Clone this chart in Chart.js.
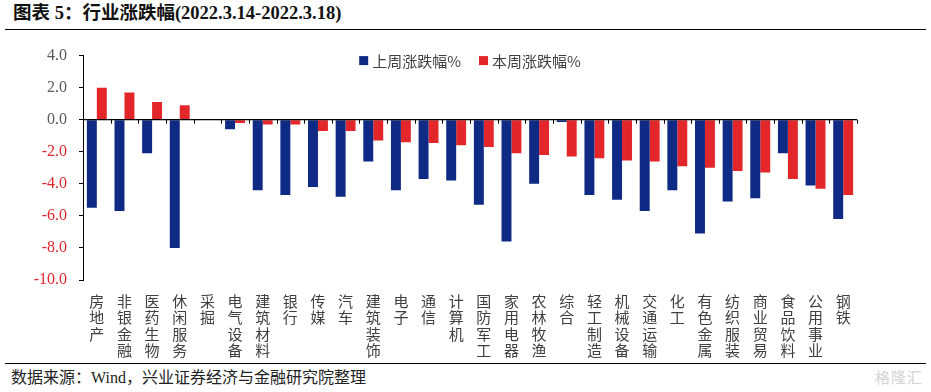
<!DOCTYPE html>
<html>
<head>
<meta charset="utf-8">
<script src="https://cdn.jsdelivr.net/npm/chart.js@4"></script>
<style>
  html, body { margin:0; padding:0; background:#fff; }
  #page { position:relative; width:931px; height:392px; overflow:hidden; }
  #title { position:absolute; left:5px; right:5px; top:0; height:29px; border-bottom:1.5px solid #000;
           font:bold 18.5px "Liberation Serif","Noto Sans CJK SC",serif; color:#111; padding-left:8px; line-height:27px; }
  #wrap { position:absolute; left:0; top:34px; width:931px; height:328px; }
  #foot { position:absolute; left:5px; right:5px; top:363px; border-top:1.5px solid #000;
          font:16px "Liberation Serif","Noto Sans CJK SC",serif; color:#222; padding-left:6px; line-height:27px; }
  #mark { position:absolute; right:8px; top:366px; font:15px "Noto Sans CJK SC",sans-serif; color:#d4d4d4; letter-spacing:1px; }
</style>
</head>
<body>
<div id="page">
  <div id="title">图表 5：行业涨跌幅(2022.3.14-2022.3.18)</div>
  <div id="wrap"><canvas id="chart"></canvas></div>
  <div id="foot">数据来源：Wind，兴业证券经济与金融研究院整理</div>
  <div id="mark">格隆汇</div>
</div>
<script>
// --- données ---
const industries = ['房地产','非银金融','医药生物','休闲服务','采掘','电气设备','建筑材料','银行','传媒','汽车',
  '建筑装饰','电子','通信','计算机','国防军工','家用电器','农林牧渔','综合','轻工制造','机械设备',
  '交通运输','化工','有色金属','纺织服装','商业贸易','食品饮料','公用事业','钢铁'];
const lastWeek = [-5.5,-5.7,-2.1,-8.0,0,-0.6,-4.4,-4.7,-4.2,-4.8,
  -2.6,-4.4,-3.7,-3.8,-5.3,-7.6,-4.0,-0.15,-4.7,-5.0,
  -5.7,-4.4,-7.1,-5.1,-4.9,-2.1,-4.1,-6.2];
const thisWeek = [2.0,1.7,1.1,0.9,0,-0.2,-0.3,-0.3,-0.7,-0.7,
  -1.3,-1.4,-1.45,-1.6,-1.7,-2.1,-2.2,-2.3,-2.4,-2.55,
  -2.6,-2.9,-3.0,-3.2,-3.3,-3.7,-4.3,-4.7];
const seriesNames = ['上周涨跌幅%','本周涨跌幅%'];
const yMin = -10, yMax = 4, yStep = 2;

const BLUE = '#0E2A85', RED = '#E2262A';

// ligne du zéro + petites graduations, et légende dans la zone du graphique
const zeroLine = {
  id:'zeroLine',
  afterDatasetsDraw(chart) {
    const {ctx, chartArea, scales:{x, y}} = chart;
    const y0 = y.getPixelForValue(0);
    ctx.save();
    ctx.strokeStyle = '#000'; ctx.lineWidth = 1.2;
    ctx.beginPath(); ctx.moveTo(chartArea.left, y0); ctx.lineTo(chartArea.right, y0); ctx.stroke();
    ctx.lineWidth = 1;
    for (let i = 0; i <= industries.length; i++) {
      const px = Math.round(x.getPixelForValue(i - 0.5)) + 0.5;
      ctx.beginPath(); ctx.moveTo(px, y0); ctx.lineTo(px, y0 + 4); ctx.stroke();
    }
    ctx.restore();
  }
};

const insideLegend = {
  id:'insideLegend',
  afterDraw(chart) {
    const {ctx, chartArea} = chart;
    ctx.save();
    ctx.font = '15px "Noto Sans CJK SC", sans-serif';
    ctx.textBaseline = 'middle';
    const box = 9, gap = 4, sep = 18;
    const items = chart.data.datasets.map(d => ({label:d.label, color:d.backgroundColor, w: box + gap + ctx.measureText(d.label).width}));
    const total = items.reduce((s, it) => s + it.w, 0) + sep * (items.length - 1);
    let cx = (chartArea.left + chartArea.right) / 2 - total / 2;
    const cy = chartArea.top + 5;
    items.forEach(it => {
      ctx.fillStyle = it.color;
      ctx.fillRect(cx, cy - box / 2, box, box);
      ctx.fillStyle = '#404040';
      ctx.fillText(it.label, cx + box + gap, cy + 1);
      cx += it.w + sep;
    });
    ctx.restore();
  }
};

new Chart(document.getElementById('chart'), {
  type:'bar',
  data:{
    labels: industries.map(s => s.split('')),
    datasets:[
      { label:seriesNames[0], data:lastWeek, backgroundColor:BLUE, categoryPercentage:0.72, barPercentage:1.0 },
      { label:seriesNames[1], data:thisWeek, backgroundColor:RED, categoryPercentage:0.72, barPercentage:1.0 }
    ]
  },
  options:{
    responsive:true, maintainAspectRatio:false, animation:false,
    layout:{ padding:{ top:21, right:74, left:0, bottom:0 } },
    plugins:{ legend:{ display:false }, tooltip:{ enabled:false } },
    scales:{
      x:{
        grid:{ display:false }, border:{ display:false },
        ticks:{ autoSkip:false, maxRotation:0, minRotation:0, padding:5, color:'#404040',
                font:{ family:'"Noto Sans CJK SC", sans-serif', size:15, lineHeight:1.1 } },
        afterFit: s => { s.height = 82; }
      },
      y:{
        min:yMin, max:yMax,
        border:{ display:true, color:'#000', width:1 },
        grid:{ drawOnChartArea:false, drawTicks:true, tickLength:4, tickColor:'#000' },
        ticks:{ stepSize:yStep, padding:12,
                color: c => c.tick.value < 0 ? RED : '#595959',
                font:{ family:'"Liberation Serif", serif', size:16 },
                callback: v => v.toFixed(1) },
        afterFit: s => { s.width = 83; }
      }
    }
  },
  plugins:[zeroLine, insideLegend]
});
</script>
</body>
</html>
